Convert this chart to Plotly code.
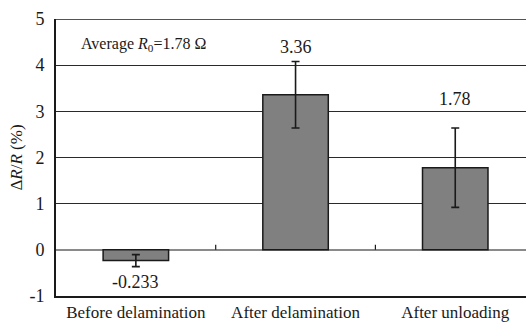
import plotly.graph_objects as go

# Resistance change of the sensor at each stage
categories = ["Before delamination", "After delamination", "After unloading"]
delta_r = [-0.233, 3.36, 1.78]
delta_r_err = [0.13, 0.72, 0.86]
y_ticks = [-1, 0, 1, 2, 3, 4, 5]
y_tick_text = ["-1", "0", "1", "2", "3", "4", "5"]

SERIF = "Times New Roman"
INK = "#1a1a1a"

x = list(range(len(categories)))

fig = go.Figure()
fig.add_trace(go.Bar(
    x=x,
    y=delta_r,
    width=0.41,
    marker=dict(color="#808080", line=dict(color=INK, width=1.5)),
    error_y=dict(type="data", array=delta_r_err, visible=True,
                 color=INK, thickness=1.6, width=4),
    showlegend=False,
))

# value labels placed above each error bar
label_y = [-0.70, 4.40, 3.26]
for xi, v, ly in zip(x, delta_r, label_y):
    fig.add_annotation(x=xi, y=ly, text=f"{v:g}", showarrow=False,
                       font=dict(family=SERIF, size=18, color=INK))

fig.add_annotation(x=-0.355, y=4.45, xanchor="left",
                   text="Average <i>R</i><sub>0</sub>=1.78 Ω", showarrow=False,
                   font=dict(family=SERIF, size=16, color=INK))

# small separator ticks between categories on the zero line
for b in [i + 0.5 for i in range(len(categories) - 1)]:
    fig.add_shape(type="line", x0=b, x1=b, y0=0, y1=0.11,
                  line=dict(color=INK, width=1.2), layer="above")

# frame line along the top of the plot
fig.add_shape(type="line", xref="paper", x0=0, x1=1, y0=y_ticks[-1], y1=y_ticks[-1],
              line=dict(color=INK, width=1.5), layer="above")

fig.update_layout(
    width=526, height=324,
    margin=dict(l=56, r=0, t=19, b=28),
    paper_bgcolor="white", plot_bgcolor="white",
    font=dict(family=SERIF, color=INK),
    xaxis=dict(
        range=[-0.5, 2.443], automargin=False,
        tickmode="array", tickvals=x, ticktext=categories,
        tickfont=dict(family=SERIF, size=17, color=INK),
        showgrid=False, zeroline=False,
        showline=True, linecolor=INK, linewidth=2,
        ticks="", ticklabelstandoff=0,
    ),
    yaxis=dict(
        range=[-1, 5], automargin=False,
        tickmode="array", tickvals=y_ticks, ticktext=y_tick_text,
        tickfont=dict(family=SERIF, size=18, color=INK),
        showgrid=True, gridcolor="#2a2a2a", gridwidth=1.2,
        zeroline=True, zerolinecolor="#8a8a8a", zerolinewidth=1.5,
        showline=True, linecolor=INK, linewidth=2,
        mirror=False, ticks="", ticklabelstandoff=6,
        title=dict(text="Δ<i>R</i>/<i>R</i> (%)",
                   font=dict(family=SERIF, size=17, color=INK), standoff=2),
    ),
)

fig.write_html("out.html")
